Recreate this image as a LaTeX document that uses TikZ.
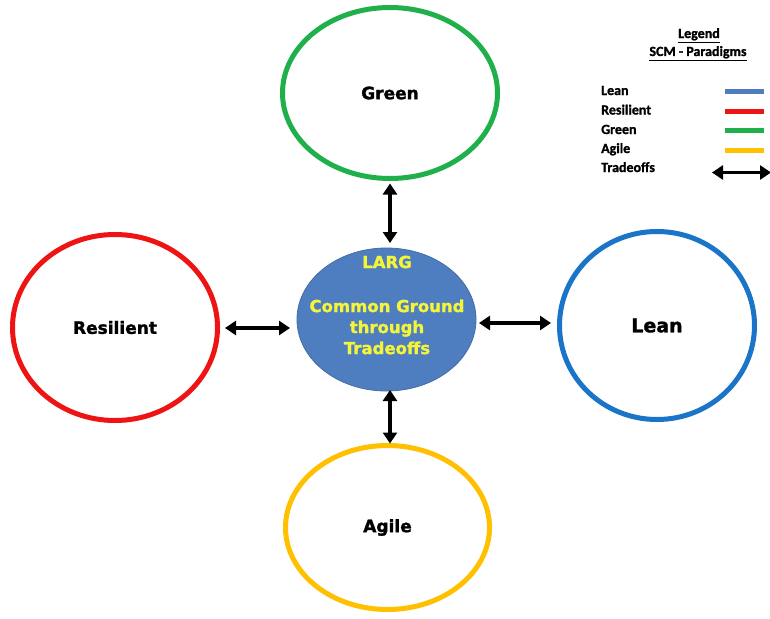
\documentclass[tikz,border=0pt]{standalone}
\usepackage{fontspec}
\setmainfont{DejaVu Sans}
\newfontfamily\heavy[BoldFeatures={FakeBold=1.6}]{DejaVu Sans}
\newfontfamily\legendfont[BoldFeatures={FakeBold=1.2}]{Carlito}
\usetikzlibrary{shapes.geometric,arrows.meta}
\definecolor{leanblue}{HTML}{1A75C9}
\definecolor{hubblue}{HTML}{4F7EC0}
\definecolor{resred}{HTML}{EE1414}
\definecolor{grgreen}{HTML}{1FAF4B}
\definecolor{agyellow}{HTML}{FFC000}
\definecolor{hubtext}{HTML}{F4F43A}
\tikzset{
  paradigm/.style={ellipse, draw=#1, line width=5pt, inner sep=0pt, outer sep=0pt,
    font=\heavy\bfseries\fontsize{17}{20}\selectfont},
  hub/.style={ellipse, fill=hubblue, draw=hubblue!85!black, line width=0.8pt,
    inner sep=0pt, outer sep=0pt},
  hubtxt/.style={text=hubtext, font=\heavy\bfseries\fontsize{16.5}{21}\selectfont, align=center},
  tradeoff/.style={line width=3.6pt, {Triangle[length=11pt,width=14pt]}-{Triangle[length=11pt,width=14pt]}},
  legfont/.style={font=\legendfont\bfseries\fontsize{14}{16}\selectfont},
  legtext/.style={legfont, anchor=base west, inner sep=0pt},
  legtitle/.style={legfont, anchor=base, inner sep=0pt},
  legbar/.style={line width=5pt, draw=#1}
}
\begin{document}
\begin{tikzpicture}[x=1pt,y=-1pt]
  \useasboundingbox (0,0) rectangle (770,618);
  \fill[white] (0,0) rectangle (770,618);

  % the four paradigms around the common hub
  \node[paradigm=grgreen, minimum width=215pt, minimum height=171pt] (green) at (390,93) {Green};
  \node[paradigm=resred, minimum width=205pt, minimum height=186pt] (resilient) at (115,327.5) {Resilient};
  \node[paradigm=leanblue, minimum width=195pt, minimum height=188pt] (lean) at (657,325.5) {\fontsize{19}{22}\selectfont Lean};
  \node[paradigm=agyellow, minimum width=204pt, minimum height=164pt] (agile) at (387.5,527.5) {Agile};

  \node[hub, minimum width=179pt, minimum height=143pt] (hub) at (386.5,319.5) {};
  \node[hubtxt, anchor=base] (larg) at (387,268) {LARG};
  \node[hubtxt, anchor=north] (common) at (387,296) {Common Ground\\through\\Tradeoffs};

  % tradeoff arrows between the hub and each paradigm
  \draw[tradeoff] ([yshift=-5pt]green.south -| 390,0) -- ([yshift=5pt]hub.north -| 390,0);
  \draw[tradeoff] ([yshift=1pt]hub.south -| 390,0) -- ([yshift=2pt]agile.north -| 390,0);
  \draw[tradeoff] ([xshift=7.5pt]resilient.east |- 0,328) -- ([xshift=-7pt]hub.west |- 0,328);
  \draw[tradeoff] ([xshift=3pt]hub.east |- 0,323) -- ([xshift=-8.5pt]lean.west |- 0,323);

  % legend
  \node[legtitle] (legtitle) at (699,38) {\underline{Legend}};
  \node[legtitle] (legsub) at (698,56) {\underline{SCM - Paradigms}};
  \node[legtext] (lleanl) at (601,95) {Lean};
  \node[legtext] (lresl) at (601,114.5) {Resilient};
  \node[legtext] (lgrl) at (601,134) {Green};
  \node[legtext] (lagl) at (601,153) {Agile};
  \node[legtext] (ltrl) at (601,172) {Tradeoffs};
  \coordinate (b1a) at (725,91); \coordinate (b1b) at (764,91);
  \coordinate (b2a) at (725,111); \coordinate (b2b) at (764,111);
  \coordinate (b3a) at (725,130); \coordinate (b3b) at (764,130);
  \coordinate (b4a) at (725,150); \coordinate (b4b) at (764,150);
  \coordinate (b5a) at (712,172.5); \coordinate (b5b) at (771,172.5);
  \draw[legbar=hubblue] (b1a) -- (b1b);
  \draw[legbar=resred] (b2a) -- (b2b);
  \draw[legbar=grgreen] (b3a) -- (b3b);
  \draw[legbar=agyellow] (b4a) -- (b4b);
  \draw[tradeoff] (b5a) -- (b5b);
\end{tikzpicture}
\end{document}
